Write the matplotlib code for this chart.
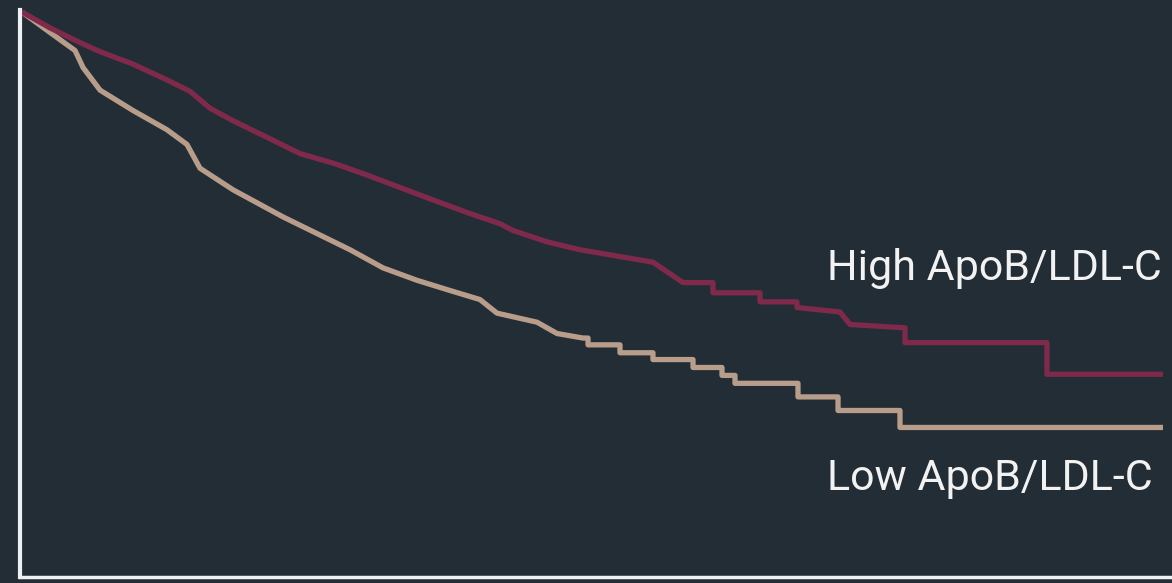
import matplotlib
matplotlib.use("Agg")
import matplotlib.pyplot as plt

# Follow-up time (years, estimated) and survival probability (curve vertices)
high_t = [0, 0.245, 0.508, 0.684, 0.973, 1.271, 1.472, 1.648, 1.849, 2.174,
          2.436, 2.743, 3.024, 3.313, 3.602, 3.926, 4.189, 4.303, 4.601, 4.890,
          5.066, 5.530, 5.793, 6.056, 6.056, 6.468, 6.468, 6.792, 6.792, 7.169,
          7.257, 7.739, 7.739, 8.983, 8.983, 10.0]
high_s = [1.000, 0.986, 0.973, 0.965, 0.954, 0.940, 0.930, 0.915, 0.904, 0.888,
          0.875, 0.866, 0.856, 0.845, 0.834, 0.822, 0.813, 0.807, 0.797, 0.790,
          0.787, 0.779, 0.761, 0.761, 0.752, 0.752, 0.744, 0.744, 0.739, 0.735,
          0.724, 0.721, 0.708, 0.708, 0.680, 0.680]

low_t = [0, 0.245, 0.465, 0.535, 0.684, 0.973, 1.271, 1.446, 1.560, 1.849,
         2.288, 2.612, 2.875, 3.164, 3.462, 3.751, 4.014, 4.163, 4.514, 4.689,
         4.917, 4.961, 4.961, 5.241, 5.241, 5.530, 5.530, 5.881, 5.881, 6.135,
         6.135, 6.249, 6.249, 6.801, 6.801, 7.152, 7.152, 7.695, 7.695, 10.0]
low_s = [1.000, 0.982, 0.966, 0.951, 0.931, 0.913, 0.896, 0.883, 0.862, 0.843,
         0.819, 0.803, 0.790, 0.774, 0.763, 0.754, 0.746, 0.734, 0.726, 0.716,
         0.712, 0.712, 0.706, 0.706, 0.699, 0.699, 0.693, 0.693, 0.686, 0.686,
         0.679, 0.679, 0.672, 0.672, 0.660, 0.660, 0.648, 0.648, 0.633, 0.633]

labels = ["High ApoB/LDL-C", "Low ApoB/LDL-C"]

BG = "#232d35"
RED = "#7f2a4b"
TAN = "#b89d8b"

fig = plt.figure(figsize=(11.72, 5.83), dpi=100, facecolor=BG)
ax = fig.add_axes([20/1172, 6/583, 1 - 20/1172, (577-10)/583])
ax.set_facecolor(BG)

ax.plot(low_t, low_s, color=TAN, lw=3.8, solid_joinstyle="round", solid_capstyle="butt")
ax.plot(high_t, high_s, color=RED, lw=3.8, solid_joinstyle="round", solid_capstyle="butt")

ax.set_xlim(-0.0175, 10.079)
ax.set_ylim(0.5009, 1.0018)

for s in ["top", "right"]:
    ax.spines[s].set_visible(False)
ax.spines["left"].set_color("#eef0f2")
ax.spines["left"].set_linewidth(3.0)
ax.spines["bottom"].set_color("#eef0f2")
ax.spines["bottom"].set_linewidth(2.5)
ax.set_xticks([])
ax.set_yticks([])

ax.text(9.99, 0.763, labels[0], ha="right", va="baseline",
        color="#f2f2f2", fontsize=31, family="Roboto")
ax.text(9.91, 0.578, labels[1], ha="right", va="baseline",
        color="#f2f2f2", fontsize=31, family="Roboto")

fig.savefig("out.png", dpi=100, facecolor=BG)
